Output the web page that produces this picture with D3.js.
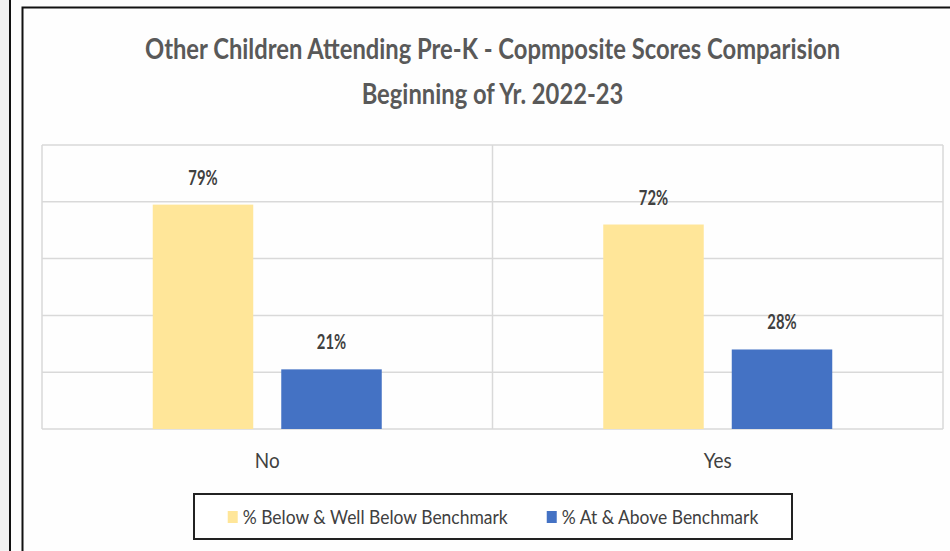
<!DOCTYPE html>
<html>
<head>
<meta charset="utf-8">
<script src="https://cdn.jsdelivr.net/npm/d3@7"></script>
<style>
  body { margin: 0; background: #fdfdfd; }
  svg { display: block; }
  text { font-family: Lato, "Open Sans", sans-serif; }
</style>
</head>
<body>
<script>
// chart data
var categories = ['No', 'Yes'];
var seriesNames = ['% Below & Well Below Benchmark', '% At & Above Benchmark'];
var belowBenchmark = [79, 72];
var atAboveBenchmark = [21, 28];
var seriesColors = ['#FFE699', '#4472C4'];
var yTicks = [0, 20, 40, 60, 80, 100];
var titleLines = ['Other Children Attending Pre-K - Copmposite Scores Comparision', 'Beginning of Yr. 2022-23'];

var width = 950, height = 551;

var svg = d3.select('body').append('svg')
  .attr('width', width)
  .attr('height', height);

// outer frame lines
svg.append('rect').attr('x', 0).attr('y', 0).attr('width', 10).attr('height', height).attr('fill', '#f2f2f2');
svg.append('rect').attr('x', 22).attr('y', 7).attr('width', width).attr('height', height).attr('fill', '#fefefe');
svg.append('line').attr('x1', 10).attr('x2', 10).attr('y1', 0).attr('y2', height)
  .attr('stroke', '#111').attr('stroke-width', 2);
svg.append('path').attr('d', 'M22.5,' + height + 'V7.5H' + width)
  .attr('fill', 'none').attr('stroke', '#111').attr('stroke-width', 2);

var plot = { left: 42, right: 943, top: 145, bottom: 429 };

var y = d3.scaleLinear().domain([0, 100]).range([plot.bottom, plot.top]);
var x0 = d3.scaleBand().domain(categories).range([plot.left, plot.right]).padding(0);
var half = 114.5;
var x1 = d3.scaleBand().domain(seriesNames)
  .range([x0.bandwidth() / 2 - half, x0.bandwidth() / 2 + half])
  .paddingInner(0.218);

// gridlines
svg.append('g')
  .selectAll('line')
  .data(yTicks)
  .join('line')
  .attr('x1', plot.left).attr('x2', plot.right)
  .attr('y1', d => y(d)).attr('y2', d => y(d))
  .attr('stroke', '#d9d9d9').attr('stroke-width', 1.5);

var bounds = categories.map(c => x0(c)).concat([plot.right]);
svg.append('g')
  .selectAll('line')
  .data(bounds)
  .join('line')
  .attr('x1', d => d).attr('x2', d => d)
  .attr('y1', plot.top).attr('y2', plot.bottom)
  .attr('stroke', '#d9d9d9').attr('stroke-width', 1.5);

// text in the picture is squeezed sideways, so each text gets a horizontal scale
function addText(g, x, yy, str, size, weight, color, sx, anchor) {
  return g.append('text')
    .attr('transform', 'translate(' + x + ',' + yy + ') scale(' + sx + ',1)')
    .attr('text-anchor', anchor || 'middle')
    .attr('font-size', size)
    .attr('font-weight', weight)
    .attr('fill', color)
    .text(str);
}

// bars
var rows = categories.map((c, i) => ({ cat: c, values: [belowBenchmark[i], atAboveBenchmark[i]] }));
var groups = svg.append('g').selectAll('g')
  .data(rows)
  .join('g')
  .attr('transform', d => 'translate(' + x0(d.cat) + ',0)');

groups.selectAll('rect')
  .data(d => d.values.map((v, j) => ({ name: seriesNames[j], value: v, color: seriesColors[j] })))
  .join('rect')
  .attr('x', d => x1(d.name))
  .attr('y', d => y(d.value))
  .attr('width', x1.bandwidth())
  .attr('height', d => y(0) - y(d.value))
  .attr('fill', d => d.color);

groups.each(function (d) {
  var g = d3.select(this);
  d.values.forEach(function (v, j) {
    addText(g, x1(seriesNames[j]) + x1.bandwidth() / 2, y(v) - 20, v + '%', 20, 700, '#404040', 0.74);
  });
});

// category labels
categories.forEach(function (c) {
  addText(svg, x0(c) + x0.bandwidth() / 2, 468, c, 21, 400, '#404040', 0.9);
});

// title
var cx = (plot.left + plot.right) / 2;
addText(svg, cx, 59, titleLines[0], 29, 700, '#595959', 0.82);
addText(svg, cx, 104, titleLines[1], 29, 700, '#595959', 0.82);

// legend
var legend = svg.append('g');
legend.append('rect')
  .attr('x', 194).attr('y', 494).attr('width', 598).attr('height', 45)
  .attr('fill', '#fff').attr('stroke', '#222').attr('stroke-width', 2);

var lsx = 0.92;
var items = seriesNames.map(function (name, j) {
  var t = addText(legend, 0, 524, name, 19, 400, '#404040', lsx, 'start');
  return { t: t, w: t.node().getComputedTextLength() * lsx, color: seriesColors[j] };
});
var sq = 10, gap = 5, between = 39;
var total = d3.sum(items, d => sq + gap + d.w) + between * (items.length - 1);
var lx = 493 - total / 2;
items.forEach(function (it) {
  legend.append('rect').attr('x', lx).attr('y', 511).attr('width', sq).attr('height', 12).attr('fill', it.color);
  it.t.attr('transform', 'translate(' + (lx + sq + gap) + ',524) scale(' + lsx + ',1)');
  lx += sq + gap + it.w + between;
});
</script>
</body>
</html>
